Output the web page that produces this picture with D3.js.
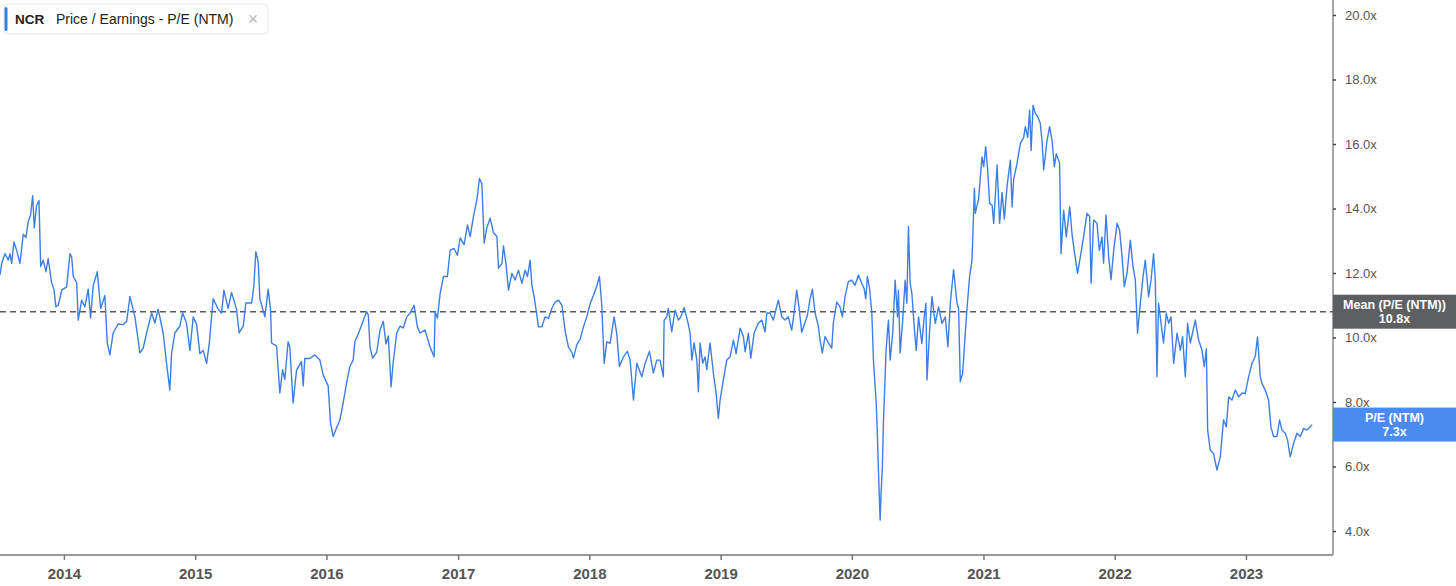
<!DOCTYPE html>
<meta charset="utf-8">
<script src="https://d3js.org/d3.v7.min.js"></script>
<style>
body { margin: 0; background: #fff; font-family: "Liberation Sans", Arial, sans-serif; }
.x-axis text { font-size: 15px; font-weight: bold; fill: #555; }
.x-axis line { stroke: #777; stroke-width: 1.5; }
.y-axis text { font-size: 13px; fill: #555; }
.y-axis line { stroke: #444; stroke-width: 1.5; }
.axis path.domain { display: none; }
</style>
<body>
<script>

var ticker = "NCR";
var metricName = "Price / Earnings - P/E (NTM)";
var seriesName = "P/E (NTM)";
var meanValue = 10.8;
var lastValue = 7.3;
var yTicks = [4, 6, 8, 10, 12, 14, 16, 18, 20];

// dates as decimal years
var dates = [
  2013.513, 2013.526, 2013.551, 2013.576, 2013.589, 2013.602, 2013.619, 2013.640, 2013.665, 2013.690,
  2013.711, 2013.728, 2013.746, 2013.762, 2013.774, 2013.792, 2013.810, 2013.823, 2013.842, 2013.863,
  2013.880, 2013.906, 2013.924, 2013.939, 2013.957, 2013.983, 2014.021, 2014.046, 2014.059, 2014.071,
  2014.097, 2014.109, 2014.135, 2014.160, 2014.185, 2014.203, 2014.223, 2014.254, 2014.280, 2014.312,
  2014.330, 2014.350, 2014.375, 2014.414, 2014.452, 2014.478, 2014.503, 2014.541, 2014.579, 2014.604,
  2014.630, 2014.668, 2014.693, 2014.718, 2014.756, 2014.782, 2014.807, 2014.820, 2014.845, 2014.883,
  2014.904, 2014.934, 2014.960, 2014.985, 2015.011, 2015.036, 2015.061, 2015.087, 2015.107, 2015.137,
  2015.175, 2015.201, 2015.219, 2015.251, 2015.277, 2015.315, 2015.335, 2015.366, 2015.386, 2015.430,
  2015.447, 2015.462, 2015.480, 2015.493, 2015.531, 2015.556, 2015.574, 2015.582, 2015.620, 2015.645,
  2015.666, 2015.683, 2015.708, 2015.721, 2015.746, 2015.772, 2015.810, 2015.823, 2015.835, 2015.874,
  2015.912, 2015.950, 2015.975, 2016.013, 2016.031, 2016.051, 2016.077, 2016.102, 2016.127, 2016.153,
  2016.178, 2016.203, 2016.216, 2016.241, 2016.267, 2016.305, 2016.318, 2016.331, 2016.351, 2016.382,
  2016.407, 2016.432, 2016.452, 2016.470, 2016.491, 2016.508, 2016.534, 2016.559, 2016.584, 2016.610,
  2016.635, 2016.666, 2016.691, 2016.711, 2016.749, 2016.788, 2016.818, 2016.826, 2016.843, 2016.864,
  2016.889, 2016.919, 2016.940, 2016.970, 2016.995, 2017.016, 2017.046, 2017.072, 2017.092, 2017.117,
  2017.143, 2017.163, 2017.181, 2017.199, 2017.219, 2017.244, 2017.270, 2017.296, 2017.308, 2017.334,
  2017.346, 2017.366, 2017.384, 2017.410, 2017.435, 2017.460, 2017.486, 2017.511, 2017.529, 2017.549,
  2017.562, 2017.580, 2017.600, 2017.612, 2017.638, 2017.663, 2017.689, 2017.714, 2017.740, 2017.765,
  2017.791, 2017.816, 2017.841, 2017.867, 2017.879, 2017.905, 2017.930, 2017.955, 2017.981, 2018.006,
  2018.031, 2018.057, 2018.077, 2018.095, 2018.113, 2018.133, 2018.158, 2018.189, 2018.209, 2018.229,
  2018.260, 2018.290, 2018.311, 2018.336, 2018.362, 2018.400, 2018.425, 2018.458, 2018.488, 2018.514,
  2018.539, 2018.564, 2018.570, 2018.590, 2018.602, 2018.628, 2018.653, 2018.679, 2018.697, 2018.722,
  2018.747, 2018.768, 2018.781, 2018.798, 2018.819, 2018.831, 2018.844, 2018.864, 2018.882, 2018.895,
  2018.920, 2018.945, 2018.966, 2018.983, 2018.996, 2019.021, 2019.047, 2019.072, 2019.098, 2019.118,
  2019.149, 2019.174, 2019.187, 2019.212, 2019.230, 2019.255, 2019.288, 2019.314, 2019.339, 2019.352,
  2019.377, 2019.402, 2019.440, 2019.466, 2019.491, 2019.516, 2019.542, 2019.560, 2019.580, 2019.600,
  2019.618, 2019.644, 2019.661, 2019.682, 2019.699, 2019.720, 2019.745, 2019.758, 2019.775, 2019.796,
  2019.821, 2019.847, 2019.859, 2019.885, 2019.910, 2019.928, 2019.948, 2019.973, 2019.999, 2020.024,
  2020.050, 2020.075, 2020.093, 2020.106, 2020.118, 2020.133, 2020.152, 2020.164, 2020.184, 2020.194,
  2020.202, 2020.215, 2020.222, 2020.232, 2020.240, 2020.260, 2020.278, 2020.291, 2020.311, 2020.329,
  2020.347, 2020.354, 2020.367, 2020.388, 2020.405, 2020.418, 2020.430, 2020.443, 2020.456, 2020.474,
  2020.489, 2020.507, 2020.532, 2020.550, 2020.563, 2020.571, 2020.590, 2020.609, 2020.634, 2020.659,
  2020.685, 2020.710, 2020.730, 2020.748, 2020.773, 2020.799, 2020.811, 2020.824, 2020.842, 2020.862,
  2020.875, 2020.895, 2020.913, 2020.931, 2020.938, 2020.963, 2020.989, 2021.002, 2021.017, 2021.032,
  2021.047, 2021.066, 2021.078, 2021.104, 2021.123, 2021.142, 2021.159, 2021.180, 2021.205, 2021.218,
  2021.230, 2021.256, 2021.281, 2021.306, 2021.319, 2021.337, 2021.352, 2021.363, 2021.378, 2021.395,
  2021.413, 2021.433, 2021.446, 2021.459, 2021.484, 2021.504, 2021.523, 2021.540, 2021.555, 2021.580,
  2021.591, 2021.611, 2021.631, 2021.657, 2021.675, 2021.692, 2021.717, 2021.738, 2021.763, 2021.789,
  2021.809, 2021.820, 2021.839, 2021.865, 2021.883, 2021.903, 2021.915, 2021.934, 2021.954, 2021.972,
  2021.992, 2022.018, 2022.037, 2022.056, 2022.073, 2022.094, 2022.119, 2022.139, 2022.157, 2022.174,
  2022.195, 2022.216, 2022.233, 2022.258, 2022.277, 2022.296, 2022.309, 2022.322, 2022.334, 2022.353,
  2022.372, 2022.393, 2022.411, 2022.429, 2022.449, 2022.475, 2022.500, 2022.517, 2022.538, 2022.555,
  2022.576, 2022.614, 2022.639, 2022.665, 2022.682, 2022.698, 2022.708, 2022.728, 2022.753, 2022.779,
  2022.804, 2022.829, 2022.850, 2022.868, 2022.893, 2022.919, 2022.944, 2022.970, 2022.995, 2023.020,
  2023.046, 2023.071, 2023.088, 2023.109, 2023.122, 2023.147, 2023.172, 2023.190, 2023.210, 2023.236,
  2023.256, 2023.274, 2023.299, 2023.317, 2023.337, 2023.363, 2023.388, 2023.414, 2023.439, 2023.465,
  2023.490, 2023.503
];

var pe = [
  11.94, 12.3, 12.6, 12.4, 12.6, 12.3, 12.96, 12.7, 12.3, 13.2,
  13.1, 13.6, 13.8, 14.4, 13.4, 14.1, 14.25, 12.2, 12.4, 12.04,
  12.45, 11.7, 11.5, 10.95, 11.0, 11.47, 11.57, 12.6, 12.5, 11.9,
  11.7, 10.54, 11.16, 10.95, 11.5, 10.6, 11.6, 12.04, 10.9, 11.3,
  9.83, 9.46, 10.14, 10.42, 10.4, 10.5, 11.27, 10.64, 9.52, 9.67,
  10.14, 10.76, 10.45, 10.88, 10.14, 9.2, 8.37, 9.5, 10.14, 10.35,
  10.76, 10.45, 9.6, 10.64, 10.4, 9.5, 9.6, 9.2, 9.8, 11.2,
  10.88, 10.76, 11.47, 10.9, 11.4, 10.88, 10.14, 10.35, 11.07, 11.07,
  11.6, 12.66, 12.35, 11.2, 10.64, 11.5, 10.88, 9.83, 9.73, 8.28,
  9.0, 8.7, 9.87, 9.7, 7.97, 8.98, 9.25, 8.5, 9.35, 9.35,
  9.46, 9.3, 8.84, 8.5, 7.35, 6.93, 7.2, 7.44, 7.97, 8.59,
  9.1, 9.3, 9.87, 10.1, 10.39, 10.8, 10.7, 9.7, 9.36, 9.55,
  10.23, 10.5, 9.8, 10.05, 8.47, 9.26, 10.14, 10.35, 10.3, 10.64,
  10.75, 11.0, 10.33, 10.14, 10.23, 9.7, 9.4, 10.8, 10.6, 11.37,
  11.89, 11.89, 12.71, 12.76, 12.55, 13.09, 12.88, 13.49, 13.13, 13.75,
  14.26, 14.93, 14.78, 12.93, 13.4, 13.7, 13.25, 13.13, 12.15, 12.3,
  12.84, 12.25, 11.47, 11.99, 11.78, 12.09, 11.68, 12.09, 11.89, 12.4,
  11.62, 11.26, 10.7, 10.33, 10.33, 10.64, 10.59, 10.9, 11.1, 11.16,
  11.0, 10.2, 9.7, 9.54, 9.36, 9.78, 9.94, 10.33, 10.64, 11.05,
  11.3, 11.6, 11.89, 11.0, 9.2, 9.87, 9.82, 10.64, 10.12, 9.1,
  9.4, 9.57, 9.3, 8.06, 9.2, 8.78, 9.2, 9.57, 8.9, 9.3,
  9.3, 8.78, 10.54, 10.64, 10.9, 10.18, 10.85, 10.54, 10.64, 10.93,
  10.54, 10.14, 9.3, 9.83, 9.3, 8.32, 9.83, 9.2, 9.4, 9.0,
  9.83, 8.9, 8.28, 7.49, 8.06, 8.68, 9.3, 9.4, 9.92, 9.5,
  10.29, 10.03, 9.56, 10.13, 9.36, 10.13, 10.45, 10.54, 10.18, 10.76,
  10.76, 10.54, 11.16, 10.64, 10.54, 10.64, 10.23, 10.76, 11.47, 10.85,
  10.16, 10.47, 10.68, 11.2, 11.5, 10.76, 10.35, 9.92, 9.52, 10.03,
  9.83, 9.67, 10.45, 11.1, 10.95, 10.64, 11.26, 11.73, 11.78, 11.62,
  11.94, 11.68, 11.52, 11.2, 11.89, 11.57, 10.76, 9.3, 8.06, 7.0,
  5.89, 4.34, 5.17, 6.0, 7.35, 9.6, 10.54, 9.3, 10.16, 11.78,
  10.64, 11.47, 9.52, 10.64, 11.78, 11.06, 13.44, 11.68, 11.37, 10.33,
  9.6, 10.64, 9.81, 10.64, 11.06, 8.68, 10.16, 11.27, 10.44, 10.95,
  10.44, 10.64, 9.71, 11.06, 12.1, 11.06, 10.9, 8.63, 8.9, 10.14,
  10.9, 11.9, 12.4, 14.63, 13.85, 14.3, 15.6, 15.3, 15.92, 15.2,
  14.16, 14.1, 13.54, 15.35, 13.54, 14.5, 13.67, 14.7, 15.5, 14.05,
  14.9, 15.4, 16.02, 16.2, 16.54, 16.2, 17.05, 15.8, 17.2, 16.95,
  16.85, 16.64, 16.1, 15.2, 16.1, 16.54, 16.1, 15.3, 15.7, 15.4,
  12.6, 13.95, 13.12, 14.05, 13.2, 12.68, 11.99, 12.5, 13.12, 13.85,
  13.75, 11.68, 13.64, 13.54, 12.7, 13.12, 12.3, 13.8, 12.5, 11.79,
  12.7, 13.54, 13.33, 12.5, 11.58, 12.0, 13.02, 12.2, 11.79, 10.13,
  11.06, 11.89, 12.4, 11.27, 11.79, 12.6, 11.79, 8.78, 11.06, 10.44,
  9.83, 10.75, 10.44, 10.64, 9.2, 10.13, 9.61, 10.03, 8.78, 10.44,
  9.83, 10.54, 9.92, 9.61, 9.1, 9.65, 7.13, 6.51, 6.4, 5.89,
  6.3, 7.44, 7.23, 8.16, 8.06, 8.37, 8.16, 8.27, 8.27, 8.78,
  9.2, 9.42, 10.02, 8.78, 8.57, 8.37, 8.06, 7.23, 6.93, 6.93,
  7.44, 7.13, 7.03, 6.82, 6.3, 6.72, 7.03, 6.93, 7.18, 7.13,
  7.23, 7.3
];

var width = 1456, height = 586;
var axisX = 1333, axisY = 555;

function fromDecimalYear(v) {
  var yr = Math.floor(v);
  var a = Date.UTC(yr, 0, 1), b = Date.UTC(yr + 1, 0, 1);
  return new Date(a + (v - yr) * (b - a));
}

var data = dates.map(function(d, i) {
  return { date: fromDecimalYear(d), value: pe[i] };
});

var svg = d3.select("body").append("svg")
    .attr("width", width)
    .attr("height", height)
    .style("display", "block");

var x = d3.scaleUtc()
    .domain(d3.extent(data, function(d) { return d.date; }))
    .range([0, 1312]);

var y = d3.scaleLinear()
    .domain([4, 20])
    .range([531, 15]);

// axis lines
svg.append("line")
    .attr("x1", 0).attr("x2", axisX)
    .attr("y1", axisY).attr("y2", axisY)
    .attr("stroke", "#777").attr("stroke-width", 1.5);

svg.append("line")
    .attr("x1", axisX).attr("x2", axisX)
    .attr("y1", 0).attr("y2", axisY)
    .attr("stroke", "#888").attr("stroke-width", 1.5);

svg.append("g")
    .attr("class", "axis x-axis")
    .attr("transform", "translate(0," + axisY + ")")
    .call(d3.axisBottom(x)
        .ticks(d3.utcYear.every(1))
        .tickFormat(d3.utcFormat("%Y"))
        .tickSize(5)
        .tickPadding(8));

svg.append("g")
    .attr("class", "axis y-axis")
    .attr("transform", "translate(" + axisX + ",0)")
    .call(d3.axisRight(y)
        .tickValues(yTicks)
        .tickFormat(function(d) { return d.toFixed(1) + "x"; })
        .tickSize(3)
        .tickPadding(9));

// mean line
svg.append("line")
    .attr("x1", 0).attr("x2", axisX)
    .attr("y1", y(meanValue)).attr("y2", y(meanValue))
    .attr("stroke", "#5a5a5a")
    .attr("stroke-width", 1.4)
    .attr("stroke-dasharray", "6,4");

// the series
var line = d3.line()
    .x(function(d) { return x(d.date); })
    .y(function(d) { return y(d.value); });

svg.append("path")
    .datum(data)
    .attr("d", line)
    .attr("fill", "none")
    .attr("stroke", "#3c7fe4")
    .attr("stroke-width", 1.4)
    .attr("stroke-linejoin", "round");

// right-hand value boxes
function valueBox(v, label, fill) {
  var g = svg.append("g").attr("transform", "translate(" + axisX + "," + y(v) + ")");
  g.append("rect")
      .attr("x", 0).attr("y", -17)
      .attr("width", width - axisX).attr("height", 34)
      .attr("fill", fill);
  g.append("text")
      .attr("x", (width - axisX) / 2).attr("y", -3)
      .attr("text-anchor", "middle")
      .attr("fill", "#fff")
      .style("font-size", "12.5px").style("font-weight", "bold")
      .text(label);
  g.append("text")
      .attr("x", (width - axisX) / 2).attr("y", 11)
      .attr("text-anchor", "middle")
      .attr("fill", "#fff")
      .style("font-size", "12.5px").style("font-weight", "bold")
      .text(v.toFixed(1) + "x");
}
valueBox(meanValue, "Mean (" + seriesName + ")", "#5d5f62");
valueBox(lastValue, seriesName, "#4a8bf2");

// legend chip
var legend = svg.append("g").attr("transform", "translate(4,4)");
legend.append("rect")
    .attr("width", 264).attr("height", 30)
    .attr("rx", 4)
    .attr("fill", "#fff")
    .attr("stroke", "#e8e8e8");
legend.append("rect")
    .attr("x", 0.5).attr("y", 3)
    .attr("width", 3).attr("height", 24)
    .attr("rx", 1.5)
    .attr("fill", "#3c7fe4");
legend.append("text")
    .attr("x", 11).attr("y", 19.5)
    .attr("fill", "#222")
    .style("font-size", "13.5px").style("font-weight", "bold")
    .text(ticker);
legend.append("text")
    .attr("x", 52).attr("y", 19.5)
    .attr("fill", "#222")
    .style("font-size", "14px")
    .text(metricName);
legend.append("text")
    .attr("x", 249).attr("y", 21)
    .attr("text-anchor", "middle")
    .attr("fill", "#bbb")
    .style("font-size", "18px")
    .text("\u00d7");

</script>
</body>
</html>
